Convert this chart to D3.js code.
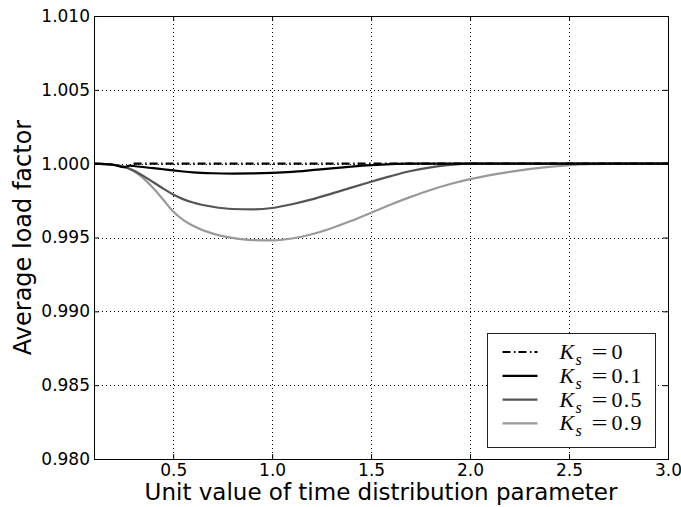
<!DOCTYPE html>
<html>
<head>
<meta charset="utf-8">
<script src="https://cdn.jsdelivr.net/npm/d3@7"></script>
<style>
  body { margin: 0; background: #fff; }
  svg { display: block; }
  .tick text { font-family: "DejaVu Sans", sans-serif; font-size: 17px; fill: #000; }
  .axis-label { font-family: "DejaVu Sans", sans-serif; fill: #000; }
  .legend-text { font-family: "Liberation Serif", "DejaVu Serif", serif; font-size: 22px; fill: #000; }
</style>
</head>
<body>
<div id="chart"></div>
<script>

var width = 681, height = 507;
var margin = {top: 16, right: 13, bottom: 48, left: 94},
    boundedWidth = width - margin.left - margin.right,
    boundedHeight = height - margin.top - margin.bottom;

// x values (unit value of time distribution parameter)
var xValues = [0.1, 0.2, 0.25, 0.28, 0.3, 0.4, 0.45, 0.5, 0.55, 0.6, 0.7, 0.8, 0.9, 1.0, 1.1, 1.2,
               1.3, 1.4, 1.5, 1.6, 1.7, 1.8, 1.9, 2.0, 2.2, 2.4, 2.6, 2.8, 3.0];

var ks0 = [null, null, null, null, 1.0, 1.0, 1.0, 1.0, 1.0, 1.0, 1.0, 1.0, 1.0, 1.0, 1.0, 1.0,
           1.0, 1.0, 1.0, 1.0, 1.0, 1.0, 1.0, 1.0, 1.0, 1.0, 1.0, 1.0, 1.0];
var ks01 = [1.0, 0.99992, 0.99976, 0.99987, 0.99984, 0.99970, 0.99962, 0.99954, 0.99947, 0.99941,
            0.99935, 0.99933, 0.99934, 0.99938, 0.99945, 0.99956, 0.99968, 0.99980, 0.99990, 0.99997,
            1.0, 1.0, 1.0, 1.0, 1.0, 1.0, 1.0, 1.0, 1.0];
var ks05 = [1.0, 0.99992, 0.99980, 0.99966, 0.99954, 0.99874, 0.99831, 0.99791, 0.99760, 0.99737,
            0.99708, 0.99693, 0.99691, 0.99700, 0.99725, 0.99758, 0.99797, 0.99838, 0.99878, 0.99916,
            0.99950, 0.99975, 0.99992, 1.0, 1.0, 1.0, 1.0, 1.0, 1.0];
var ks09 = [1.0, 0.99991, 0.99978, 0.99964, 0.99950, 0.99834, 0.99756, 0.99676, 0.99620, 0.99580,
            0.99526, 0.99497, 0.99482, 0.99480, 0.99493, 0.99522, 0.99563, 0.99613, 0.99668, 0.99723,
            0.99775, 0.99822, 0.99862, 0.99895, 0.99945, 0.99978, 0.99996, 1.0, 1.0];

var seriesNames = ["0", "0.1", "0.5", "0.9"];
var seriesColors = ["#000000", "#000000", "#555555", "#999999"];
var seriesDash = ["8,3.5,1.5,3", null, null, null];

var xTicks = [0.5, 1.0, 1.5, 2.0, 2.5, 3.0];
var yTicks = [0.980, 0.985, 0.990, 0.995, 1.000, 1.005, 1.010];

var seriesData = [ks0, ks01, ks05, ks09].map(function(vals, i) {
  return {
    name: seriesNames[i],
    color: seriesColors[i],
    dash: seriesDash[i],
    values: xValues.map(function(x, j) { return {x: x, y: vals[j]}; })
                   .filter(function(d) { return d.y != null; })
  };
});

var svg = d3.select("#chart").append("svg")
  .attr("width", width)
  .attr("height", height);

var xScale = d3.scaleLinear().domain([0.1, 3.0]).range([0, boundedWidth]),
    yScale = d3.scaleLinear().domain([0.980, 1.010]).range([boundedHeight, 0]);

var g = svg.append("g")
  .attr("transform", `translate(${margin.left},${margin.top})`);

// grid
g.append("g").selectAll("line")
  .data(xTicks.filter(d => d < 3.0))
  .enter().append("line")
  .attr("x1", d => Math.round(xScale(d)) + 0.5)
  .attr("x2", d => Math.round(xScale(d)) + 0.5)
  .attr("y1", 0).attr("y2", boundedHeight)
  .attr("stroke", "#000").attr("stroke-width", 1).attr("stroke-dasharray", "1,3");

g.append("g").selectAll("line")
  .data(yTicks.filter(d => d > 0.980 && d < 1.010))
  .enter().append("line")
  .attr("y1", d => Math.round(yScale(d)) + 0.5)
  .attr("y2", d => Math.round(yScale(d)) + 0.5)
  .attr("x1", 0).attr("x2", boundedWidth)
  .attr("stroke", "#000").attr("stroke-width", 1).attr("stroke-dasharray", "1,3");

// lines
var lineGenerator = d3.line()
  .x(d => xScale(d.x))
  .y(d => yScale(d.y))
  .curve(d3.curveMonotoneX);

g.append("defs").append("clipPath").attr("id", "clip")
  .append("rect").attr("width", boundedWidth).attr("height", boundedHeight);

g.append("g").attr("clip-path", "url(#clip)")
  .selectAll(".line")
  .data(seriesData.slice().reverse())
  .enter().append("path")
  .attr("class", "line")
  .attr("d", d => lineGenerator(d.values))
  .attr("fill", "none")
  .attr("stroke", d => d.color)
  .attr("stroke-width", 2.2)
  .attr("stroke-dasharray", d => d.dash);

// axes (ticks inward, all four sides)
var xAxis = d3.axisBottom(xScale).tickValues(xTicks).tickFormat(d3.format(".1f"))
  .tickSizeInner(-5).tickSizeOuter(0).tickPadding(5);
var yAxis = d3.axisLeft(yScale).tickValues(yTicks).tickFormat(d3.format(".3f"))
  .tickSizeInner(-5).tickSizeOuter(0).tickPadding(4);

g.append("g").attr("transform", `translate(0,${boundedHeight})`).call(xAxis);
g.append("g").call(yAxis);
g.append("g").call(d3.axisTop(xScale).tickValues(xTicks).tickFormat("").tickSizeInner(-5).tickSizeOuter(0));
g.append("g").attr("transform", `translate(${boundedWidth},0)`)
  .call(d3.axisRight(yScale).tickValues(yTicks).tickFormat("").tickSizeInner(-5).tickSizeOuter(0));

g.selectAll(".domain").remove();
g.selectAll(".tick line").attr("stroke", "#000");

// frame
g.append("rect")
  .attr("x", 0.5).attr("y", 0.5)
  .attr("width", boundedWidth).attr("height", boundedHeight)
  .attr("fill", "none").attr("stroke", "#000").attr("stroke-width", 1);

// axis labels
svg.append("text")
  .attr("class", "axis-label")
  .style("font-size", "23px")
  .attr("x", margin.left + boundedWidth / 2)
  .attr("y", 500)
  .attr("text-anchor", "middle")
  .text("Unit value of time distribution parameter");

svg.append("text")
  .attr("class", "axis-label")
  .style("font-size", "24px")
  .attr("transform", `translate(31,${margin.top + boundedHeight / 2}) rotate(-90)`)
  .attr("text-anchor", "middle")
  .text("Average load factor");

// legend
var legend = svg.append("g").attr("transform", "translate(487.5,333.5)");
legend.append("rect")
  .attr("width", 168).attr("height", 114)
  .attr("fill", "#fff").attr("stroke", "#222").attr("stroke-width", 1);

var legendItems = legend.selectAll(".legend-item")
  .data(seriesData)
  .enter().append("g")
  .attr("class", "legend-item")
  .attr("transform", (d, i) => `translate(0,${18.5 + i * 23.8})`);

legendItems.append("line")
  .attr("x1", 15).attr("x2", 50)
  .attr("y1", 0).attr("y2", 0)
  .attr("stroke", d => d.color)
  .attr("stroke-width", 2.2)
  .attr("stroke-dasharray", d => d.dash);

var legendText = legendItems.append("text")
  .attr("class", "legend-text")
  .attr("y", 7);
legendText.append("tspan").attr("x", 72).style("font-style", "italic").text("K");
legendText.append("tspan").attr("x", 88).style("font-style", "italic").style("font-size", "16px")
  .attr("dy", 6).text("s");
legendText.append("tspan").attr("x", 104).attr("dy", -6).text("=")
  .attr("textLength", 16).attr("lengthAdjust", "spacingAndGlyphs");
legendText.append("tspan").attr("x", 124).text(d => d.name)
  .attr("textLength", d => d.name.length > 1 ? 30 : null)
  .attr("lengthAdjust", "spacing");

</script>
</body>
</html>
